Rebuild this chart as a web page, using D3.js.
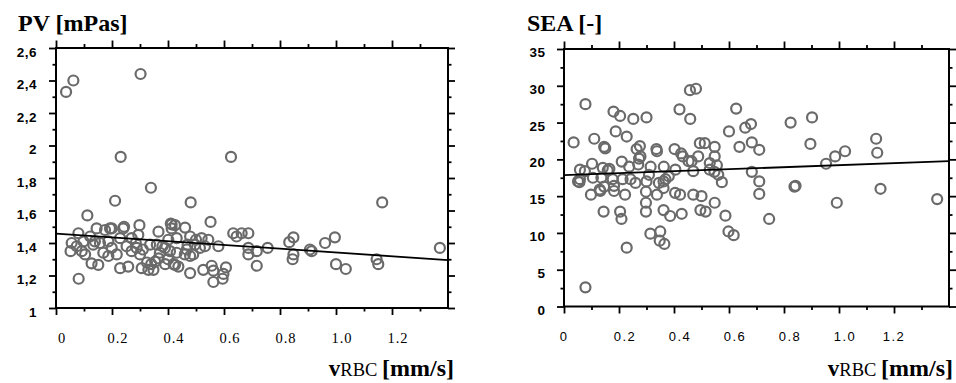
<!DOCTYPE html>
<html>
<head>
<meta charset="utf-8">
<script src="https://cdn.jsdelivr.net/npm/d3@7"></script>
<style>
  body { margin: 0; background: #fff; }
  svg { display: block; }
</style>
</head>
<body>
<div id="chart"></div>
<script>
// ---- data ----
const xTicks = [0, 0.2, 0.4, 0.6, 0.8, 1.0, 1.2];
const xTickLabels = ["0", "0.2", "0.4", "0.6", "0.8", "1.0", "1.2"];
const xMinor = [0.1, 0.3, 0.5, 0.7, 0.9, 1.1, 1.3];

const pvTicks = [1, 1.2, 1.4, 1.6, 1.8, 2, 2.2, 2.4, 2.6];
const pvTickLabels = ["1", "1,2", "1,4", "1,6", "1,8", "2", "2,2", "2,4", "2,6"];
const pvMinor = [1.1, 1.3, 1.5, 1.7, 1.9, 2.1, 2.3, 2.5];

const seaTicks = [0, 5, 10, 15, 20, 25, 30, 35];
const seaTickLabels = ["0", "5", "10", "15", "20", "25", "30", "35"];
const seaMinor = [2.5, 7.5, 12.5, 17.5, 22.5, 27.5, 32.5];

// [vRBC, PV]
const pvPoints = [
  [0.036,2.33],[0.062,2.40],[0.302,2.44],[0.231,1.93],[0.625,1.93],
  [0.339,1.74],[0.211,1.66],[0.481,1.65],[1.165,1.65],[0.112,1.57],[0.552,1.53],
  [0.081,1.18],[0.562,1.16],[1.371,1.37],[0.996,1.435],[0.961,1.40],[1.0,1.27],[1.035,1.24],
  [1.145,1.30],[1.151,1.27],[0.907,1.36],[0.913,1.35],[0.848,1.435],[0.833,1.405],[0.848,1.33],
  [0.845,1.30],[0.756,1.37],[0.717,1.26],[0.687,1.37],[0.687,1.33],[0.717,1.35],[0.687,1.46],
  [0.663,1.46],[0.633,1.46],[0.645,1.44],[0.607,1.25],[0.598,1.21],[0.595,1.18],[0.58,1.38],
  [0.556,1.26],[0.562,1.23],
  [0.08,1.46],[0.056,1.40],[0.052,1.35],[0.074,1.38],[0.098,1.41],[0.092,1.35],[0.104,1.33],
  [0.127,1.275],[0.151,1.265],[0.145,1.49],[0.175,1.48],[0.199,1.49],[0.24,1.49],[0.298,1.51],
  [0.366,1.47],[0.413,1.515],[0.413,1.49],[0.431,1.43],[0.139,1.41],[0.157,1.40],[0.187,1.41],
  [0.169,1.34],[0.187,1.32],[0.217,1.33],[0.229,1.245],[0.258,1.255],[0.252,1.38],[0.27,1.43],
  [0.294,1.45],[0.288,1.37],[0.30,1.33],[0.306,1.245],[0.33,1.235],[0.348,1.235],[0.336,1.39],
  [0.36,1.39],[0.366,1.305],[0.354,1.285],[0.371,1.34],[0.389,1.37],[0.401,1.42],[0.407,1.35],
  [0.425,1.265],[0.229,1.43],[0.199,1.37],
  [0.461,1.495],[0.425,1.51],[0.479,1.44],[0.52,1.43],[0.544,1.42],[0.496,1.39],[0.514,1.37],
  [0.532,1.38],[0.467,1.36],[0.49,1.33],[0.431,1.34],[0.479,1.32],[0.437,1.255],[0.479,1.215],
  [0.526,1.235],[0.243,1.50],[0.41,1.52],[0.193,1.49],[0.122,1.44],[0.133,1.39],
  [0.27,1.35],[0.285,1.40],[0.31,1.36],[0.325,1.28],[0.34,1.27],[0.38,1.38],[0.40,1.30],
  [0.39,1.27],[0.42,1.27],[0.46,1.33],[0.50,1.42],[0.47,1.39]
];

// [vRBC, SEA]
const seaPoints = [
  [0.078,27.5],[0.035,22.3],[0.11,22.8],[0.18,26.5],[0.204,25.9],[0.252,25.5],[0.30,25.7],
  [0.188,23.8],[0.228,23.1],[0.146,21.7],[0.150,21.5],[0.102,19.4],[0.21,19.7],[0.264,21.4],
  [0.276,21.8],[0.278,20.4],[0.336,21.4],[0.338,21.1],
  [0.42,26.8],[0.458,29.4],[0.48,29.6],[0.459,25.5],[0.402,21.4],[0.426,20.8],[0.432,20.4],
  [0.494,22.2],[0.512,22.2],[0.548,21.7],[0.548,20.4],[0.488,20.4],[0.464,19.75],[0.53,19.5],
  [0.53,18.6],[0.556,19.2],[0.547,18.3],[0.47,18.4],[0.574,16.9],
  [0.60,23.8],[0.626,26.9],[0.638,21.7],[0.659,24.3],[0.68,24.8],[0.683,22.3],[0.71,21.3],
  [0.683,18.3],[0.71,17.0],[0.71,15.3],[0.824,25.0],[0.902,25.7],[0.896,22.1],[0.953,19.4],
  [0.986,20.4],[1.022,21.1],[1.135,22.8],[1.139,20.9],[1.151,16.0],[0.838,16.3],[0.842,16.4],
  [1.357,14.6],
  [0.992,14.1],[0.746,11.9],[0.548,14.1],[0.587,12.35],[0.598,10.2],[0.617,9.7],[0.47,15.2],
  [0.50,15.0],[0.496,13.1],[0.515,12.9],[0.428,12.6],[0.386,12.3],[0.362,13.1],[0.35,10.2],
  [0.348,8.95],[0.365,8.5],[0.314,9.9],[0.298,14.1],[0.298,12.9],[0.338,15.2],[0.298,15.6],
  [0.362,16.1],[0.404,15.45],[0.422,15.2],[0.228,8.0],[0.204,12.9],[0.209,11.9],[0.144,12.9],
  [0.098,15.2],[0.132,15.7],[0.182,15.7],[0.222,15.2],[0.078,2.6],[0.056,16.9],[0.146,16.3],
  [0.182,16.4],
  [0.058,18.6],[0.076,18.4],[0.141,18.85],[0.159,18.5],[0.165,18.7],[0.136,17.5],[0.237,19.0],
  [0.273,20.1],[0.27,19.3],[0.315,19.0],[0.363,19.0],[0.309,17.9],[0.381,17.7],[0.405,18.6],
  [0.058,17.3],[0.105,17.5],[0.177,17.3],[0.213,17.3],[0.26,16.8],[0.30,17.0],[0.345,16.8],
  [0.369,17.3],[0.453,19.75],[0.561,17.9],[0.13,15.9],[0.051,17.0],[0.242,17.3],[0.362,17.0]
];

// regression line: value at v = 0 and at v = 1.4
const pvFit = [1.458, 1.295];
const seaFit = [17.85, 19.75];

const xMax = 1.4;
const serif = "'Liberation Serif', 'Times New Roman', Times, serif";
const sans = "'Liberation Sans', Arial, Helvetica, sans-serif";

const svg = d3.select("#chart")
  .append("svg")
    .attr("width", 956)
    .attr("height", 383);

svg.append("rect").attr("width", 956).attr("height", 383).attr("fill", "#fff");

function panel(o) {
  const x = d3.scaleLinear().domain([0, xMax]).range([o.left, o.right]);
  const y = d3.scaleLinear().domain(o.yDomain).range([o.bottom, o.top]);
  const g = svg.append("g");

  // ticks on all four sides, pointing outward
  function ticks(axis, vals, size, tr) {
    g.append("g")
      .attr("transform", tr)
      .call(axis.tickValues(vals).tickSize(size).tickFormat(""))
      .call(a => a.select(".domain").remove())
      .selectAll("line").attr("stroke", "#000").attr("stroke-width", 1.8);
  }
  ticks(d3.axisBottom(x), xTicks, 7, `translate(0,${o.bottom})`);
  ticks(d3.axisBottom(x), xMinor, 3.5, `translate(0,${o.bottom})`);
  ticks(d3.axisTop(x), xTicks, 7.5, `translate(0,${o.top})`);
  ticks(d3.axisTop(x), xMinor, 4, `translate(0,${o.top})`);
  ticks(d3.axisLeft(y), o.yTicks, 7, `translate(${o.left},0)`);
  ticks(d3.axisLeft(y), o.yMinor, 3.5, `translate(${o.left},0)`);
  ticks(d3.axisRight(y), o.yTicks, 7, `translate(${o.right},0)`);
  ticks(d3.axisRight(y), o.yMinor, 3.5, `translate(${o.right},0)`);

  // frame
  g.append("rect")
    .attr("x", o.left).attr("y", o.top)
    .attr("width", o.right - o.left).attr("height", o.bottom - o.top)
    .attr("fill", "none").attr("stroke", "#000").attr("stroke-width", 2);

  // points
  g.selectAll("circle.pt")
    .data(o.points)
    .enter()
    .append("circle")
      .attr("class", "pt")
      .attr("cx", d => x(d[0]))
      .attr("cy", d => y(d[1]))
      .attr("r", 5)
      .attr("fill", "none")
      .attr("stroke", "#6a6a6a")
      .attr("stroke-width", 2.2);

  // regression line
  const line = d3.line().x(d => x(d[0])).y(d => y(d[1]));
  g.append("path")
    .attr("d", line([[0, o.fit[0]], [xMax, o.fit[1]]]))
    .attr("fill", "none")
    .attr("stroke", "#000")
    .attr("stroke-width", 1.8);

  // y tick labels
  g.selectAll("text.ylab")
    .data(o.yTicks)
    .enter()
    .append("text")
      .attr("class", "ylab")
      .attr("x", o.yLabelX)
      .attr("y", d => y(d) + o.yLabelDy)
      .attr("text-anchor", "end")
      .style("font-family", sans)
      .style("font-weight", "bold")
      .style("font-size", "13.5px")
      .style("letter-spacing", "0.5px")
      .text((d, i) => o.yLabels[i]);

  // x tick labels
  g.selectAll("text.xlab")
    .data(xTicks)
    .enter()
    .append("text")
      .attr("class", "xlab")
      .attr("x", d => x(d) + o.xLabelDx(d))
      .attr("y", o.xLabelY)
      .attr("text-anchor", "middle")
      .style("font-family", o.xLabelFont)
      .style("font-size", o.xLabelSize + "px")
      .style("letter-spacing", o.xLabelSpacing + "px")
      .text((d, i) => xTickLabels[i]);

  // panel title
  g.append("text")
    .attr("x", o.titleX)
    .attr("y", 31)
    .style("font-family", serif)
    .style("font-weight", "bold")
    .style("font-size", "24px")
    .text(o.title);

  // x axis title
  const t = g.append("text")
    .attr("x", o.axisTitleX)
    .attr("y", 376)
    .attr("text-anchor", "end")
    .style("font-family", serif);
  t.append("tspan").style("font-weight", "bold").style("font-size", "23px").text("v");
  t.append("tspan").style("font-size", "18.5px").text("RBC ");
  t.append("tspan").style("font-weight", "bold").style("font-size", "24px").text("[mm/s]");
}

panel({
  left: 56, right: 448, top: 48, bottom: 308,
  yDomain: [1, 2.6], yTicks: pvTicks, yMinor: pvMinor, yLabels: pvTickLabels,
  points: pvPoints, fit: pvFit,
  yLabelX: 37, yLabelDy: 8.5,
  xLabelY: 343, xLabelDx: d => 6, xLabelFont: serif,
  xLabelSize: 14.5, xLabelSpacing: 1,
  title: "PV [mPas]", titleX: 18, axisTitleX: 454
});

panel({
  left: 564, right: 949, top: 49, bottom: 306.5,
  yDomain: [0, 35], yTicks: seaTicks, yMinor: seaMinor, yLabels: seaTickLabels,
  points: seaPoints, fit: seaFit,
  yLabelX: 545.5, yLabelDy: 8,
  xLabelY: 341, xLabelDx: d => (d === 0 || d === 1.2) ? 0 : 6,
  xLabelFont: sans,
  xLabelSize: 13, xLabelSpacing: 1.5,
  title: "SEA [-]", titleX: 527, axisTitleX: 953
});
</script>
</body>
</html>
